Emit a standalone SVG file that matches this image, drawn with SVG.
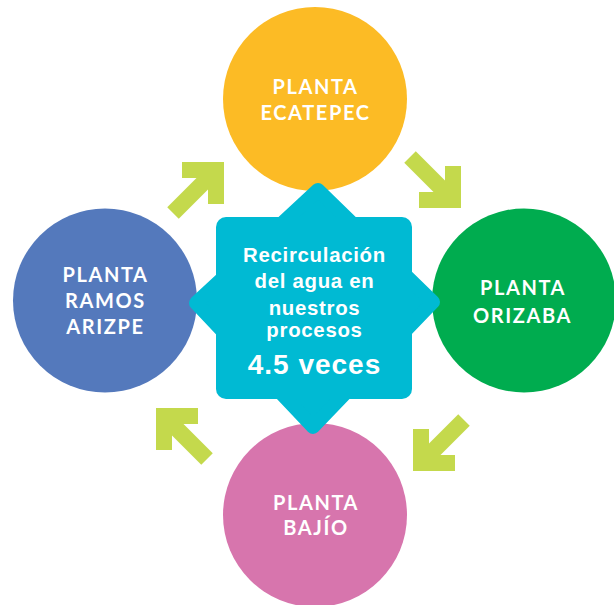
<svg xmlns="http://www.w3.org/2000/svg" width="614" height="605" viewBox="0 0 614 605">
  <style>
    .lbl { font-family: "Lato", "Liberation Sans", sans-serif; font-weight: 700; font-size: 20px; fill: #ffffff; text-anchor: middle; letter-spacing: 1.6px; }
    .ctr { font-family: "Liberation Sans", "Arial", sans-serif; font-weight: 700; font-size: 20.4px; fill: #ffffff; text-anchor: middle; letter-spacing: 0.7px; }
    .big { font-size: 28px; letter-spacing: 1px; }
    .arrow { fill: #c4d94c; }
  </style>
  <defs>
    <path id="arr" d="M0,0 L-42,0 L-42,16 L-27.5,16 L-56.75,45.25 L-45.25,56.75 L-16,27.5 L-16,42 L0,42 Z"/>
  </defs>
  <rect width="614" height="605" fill="#ffffff"/>

  <g id="connectors" class="arrow">
    <use href="#arr" transform="translate(224,162)"/>
    <use href="#arr" transform="translate(461,208) rotate(90)"/>
    <use href="#arr" transform="translate(413,471) rotate(180)"/>
    <use href="#arr" transform="translate(156,408) rotate(270)"/>
  </g>

  <g id="ecatepec">
    <circle cx="315" cy="99" r="92" fill="#fcbb25"/>
    <text class="lbl" x="315.5" y="93.5">PLANTA</text>
    <text class="lbl" x="315.5" y="119.5">ECATEPEC</text>
  </g>
  <g id="orizaba">
    <circle cx="524" cy="300.5" r="92" fill="#00ac4f"/>
    <text class="lbl" x="523" y="295">PLANTA</text>
    <text class="lbl" x="522.5" y="322.5">ORIZABA</text>
  </g>
  <g id="bajio">
    <circle cx="315" cy="515" r="92" fill="#d775ad"/>
    <text class="lbl" x="316" y="509.5">PLANTA</text>
    <text class="lbl" x="316" y="535">BAJÍO</text>
  </g>
  <g id="ramos-arizpe">
    <circle cx="105" cy="300.5" r="92" fill="#5479bc"/>
    <text class="lbl" x="105.5" y="282">PLANTA</text>
    <text class="lbl" x="105.5" y="307.5">RAMOS</text>
    <text class="lbl" x="105.5" y="334">ARIZPE</text>
  </g>

  <g id="centro">
    <polygon points="318,190 433,302 313,427 196,303" fill="#00bad3" stroke="#00bad3" stroke-width="14" stroke-linejoin="round"/>
    <rect x="216" y="217" width="196" height="182" rx="10" fill="#00bad3"/>
    <text class="ctr" x="314.5" y="262">Recirculación</text>
    <text class="ctr" x="314.5" y="288">del agua en</text>
    <text class="ctr" x="314.5" y="314.5">nuestros</text>
    <text class="ctr" x="314.5" y="336.5">procesos</text>
    <text class="ctr big" x="314.5" y="374">4.5 veces</text>
  </g>
</svg>
